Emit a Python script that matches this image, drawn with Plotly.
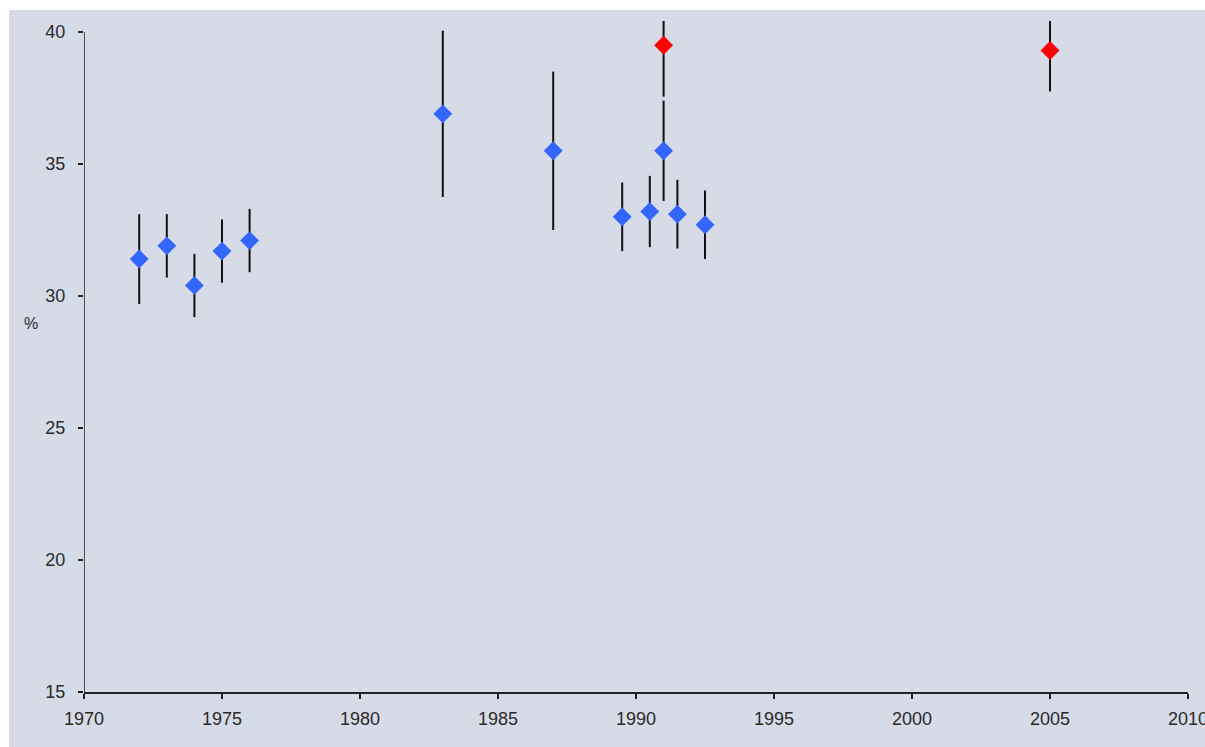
import plotly.graph_objects as go

# Survey estimates (percent) with their error margins
blue_years = [1972, 1973, 1974, 1975, 1976, 1983, 1987, 1989.5, 1990.5, 1991, 1991.5, 1992.5]
blue_values = [31.4, 31.9, 30.4, 31.7, 32.1, 36.9, 35.5, 33.0, 33.2, 35.5, 33.1, 32.7]
blue_errors = [1.7, 1.2, 1.2, 1.2, 1.2, 3.15, 3.0, 1.3, 1.35, 1.9, 1.3, 1.3]

red_years = [1991, 2005]
red_values = [39.5, 39.3]
red_errors = [1.95, 1.55]

x_ticks = [1970, 1975, 1980, 1985, 1990, 1995, 2000, 2005, 2010]
y_ticks = [15, 20, 25, 30, 35, 40]

BG = "#D7DBE7"
FONT = "Liberation Sans, Arial, sans-serif"

fig = go.Figure()

for xs, ys, es, color in [
    (blue_years, blue_values, blue_errors, "#3366FF"),
    (red_years, red_values, red_errors, "#FF0000"),
]:
    fig.add_trace(go.Scatter(
        x=xs, y=ys, mode="markers",
        marker=dict(symbol="diamond", size=14.5, color=color, line=dict(width=0)),
        error_y=dict(type="data", array=es, visible=True, color="#111111",
                     thickness=2, width=0),
        cliponaxis=True,
        showlegend=False,
    ))

L, R, T, B = 84, 17, 21, 55
W, H = 1205, 747
pw, ph = W - L - R, H - T - B

fig.update_layout(
    width=W, height=H,
    margin=dict(l=L, r=R, t=T, b=B, pad=0, autoexpand=False),
    paper_bgcolor=BG, plot_bgcolor=BG,
    font=dict(family=FONT, size=18, color="#2a2a2a"),
    xaxis=dict(range=[1970, 2010], tickvals=x_ticks, ticks="outside", ticklen=5,
               tickcolor="#222", tickwidth=1.5, showline=True, linecolor="#222",
               linewidth=1.5, showgrid=False, zeroline=False, automargin=False,
               ticklabelstandoff=5, ticklabeloverflow="allow"),
    yaxis=dict(range=[15, 40 + 11 / 26.4], tickvals=y_ticks, ticks="outside",
               ticklen=5, tickcolor="#222", tickwidth=1.5, showline=False,
               showgrid=False, zeroline=False, automargin=False, ticklabelstandoff=9),
    shapes=[
        # y axis line spanning 15..40 only
        dict(type="line", xref="x", yref="y", x0=1970, x1=1970, y0=15, y1=40,
             line=dict(color="#222", width=1.5), layer="above"),
        # white border strips on top and left
        dict(type="rect", xref="paper", yref="paper",
             x0=-L / pw, x1=(W - L) / pw + 0.05, y0=(H - B - 10) / ph, y1=(H - B) / ph + 0.01,
             fillcolor="white", line=dict(width=0), layer="below"),
        dict(type="rect", xref="paper", yref="paper",
             x0=-L / pw - 0.01, x1=(9 - L) / pw, y0=-B / ph - 0.01, y1=(H - B) / ph + 0.01,
             fillcolor="white", line=dict(width=0), layer="below"),
    ],
    annotations=[
        dict(text="%", xref="paper", yref="paper", x=(31 - L) / pw, y=(H - B - 323) / ph,
             showarrow=False, font=dict(size=16, family=FONT, color="#2a2a2a"),
             xanchor="center", yanchor="middle"),
    ],
)

fig.write_html("out.html")
